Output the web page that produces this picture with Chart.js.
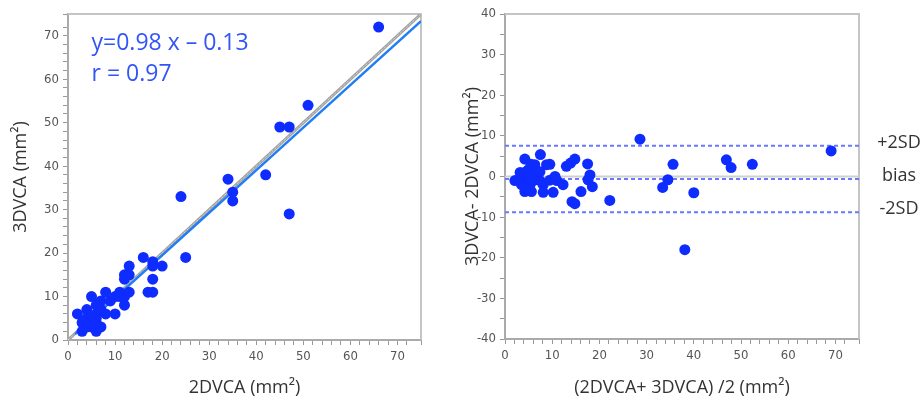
<!DOCTYPE html>
<html>
<head>
<meta charset="utf-8">
<script src="https://cdn.jsdelivr.net/npm/chart.js@4.4.1/dist/chart.umd.min.js"></script>
<style>
  body { margin: 0; background: #fff; }
  #left { position: absolute; left: 0; top: 0; }
  #right { position: absolute; left: 460px; top: 0; }
</style>
</head>
<body>
<canvas id="left" width="460" height="399"></canvas>
<canvas id="right" width="461" height="399"></canvas>
<script>
// ── Correlation plot data (2DVCA vs 3DVCA, mm²) ──
const area2d = [2, 3, 3, 4, 4, 4, 5, 5, 5, 5, 6, 6, 6, 6, 6, 6, 7, 7, 7, 8, 8, 9, 10, 10, 11, 11, 12, 12, 12, 12, 13, 13, 13, 16, 17, 18, 18, 18, 18, 20, 24, 25, 34, 35, 35, 42, 45, 47, 47, 51, 66];
const area3d = [6, 2, 4, 3, 5, 7, 3, 4, 5, 10, 2, 3, 4, 5, 6, 8, 3, 7, 9, 6, 11, 9, 6, 10, 10, 11, 8, 10, 14, 15, 11, 15, 17, 19, 11, 11, 14, 17, 18, 17, 33, 19, 37, 34, 32, 38, 49, 49, 29, 54, 72];
const slope = 0.98, intercept = -0.13, rValue = 0.97;
const regStart = 1.5, axisMax = 75;

// ── Bland-Altman data ──
const baMean = [2.1, 3.2, 3.5, 3.8, 4.2, 4.2, 4.2, 4.6, 4.9, 5.0, 5.3, 5.5, 5.6, 6.0, 6.0, 6.3, 7.4, 7.4, 7.5, 8.1, 8.1, 8.8, 9.5, 9.5, 10.2, 10.6, 11.0, 12.3, 13.0, 13.9, 14.8, 14.2, 14.8, 16.1, 17.5, 18.0, 17.6, 18.5, 22.2, 28.6, 33.4, 34.5, 35.6, 38.1, 40.0, 46.9, 47.9, 52.4, 69.1];
const baDiff = [-1, 1, -2, 0, 4.3, 1, -3.7, -1, 1.6, -0.5, -2, 3, -3.7, 0.4, -1, 2.9, -1, 1.2, 5.4, -2, -3.9, 2.9, -0.9, 3, -3.9, 0, -1, -2, 2.5, 3.3, 4.3, -6.2, -6.7, -3.7, 3.1, 0.4, -0.8, -2.5, -5.9, 9.2, -2.7, -0.8, 3, -18, -4, 4.1, 2.2, 3, 6.3];
const bias = -0.6, upper2sd = 7.6, lower2sd = -8.8;
const limitLabels = ['+2SD', 'bias', '-2SD'];

const pointBlue = '#0f2cff';
const tickFont = { family: "'Liberation Sans Narrow', 'DejaVu Sans Condensed', sans-serif", size: 13 };
const titleFont = { family: "'Open Sans', sans-serif", size: 18 };

function axis(min, max, step, title, titlePad, fitSize, isX) {
    return {
        type: 'linear', min, max,
        border: { color: '#aaa', width: 2 },
        grid: { drawOnChartArea: false, tickLength: 5, color: '#999' },
        ticks: {
            stepSize: step, autoSkip: false, maxRotation: 0, padding: 4,
            color: '#555', font: tickFont,
            callback: v => v % 10 === 0 ? v : ''
        },
        title: { display: true, text: title, color: '#333', font: titleFont, padding: titlePad },
        afterFit: s => { if (isX) s.height = fitSize; else s.width = fitSize; }
    };
}

const framePlugin = {
    id: 'frame',
    beforeDatasetsDraw(chart) {
        const { ctx, chartArea: a } = chart;
        ctx.save();
        ctx.strokeStyle = '#c4c4c4'; ctx.lineWidth = 2;
        ctx.beginPath();
        ctx.moveTo(a.left, a.top); ctx.lineTo(a.right, a.top); ctx.lineTo(a.right, a.bottom);
        ctx.stroke();
        ctx.restore();
    }
};

// ── Left: correlation ──
const eqPlugin = {
    id: 'eq',
    afterDraw(chart) {
        const { ctx, scales: { x, y } } = chart;
        ctx.save();
        ctx.fillStyle = '#3355f5';
        ctx.font = "23px 'Open Sans', sans-serif";
        ctx.textBaseline = 'middle';
        ctx.fillText(`y=${slope} x \u2013 ${Math.abs(intercept)}`, x.getPixelForValue(5), y.getPixelForValue(68.2));
        ctx.fillText(`r = ${rValue}`, x.getPixelForValue(5), y.getPixelForValue(61));
        ctx.restore();
    }
};

new Chart(document.getElementById('left'), {
    type: 'scatter',
    data: {
        datasets: [
            { data: area2d.map((v, i) => ({ x: v, y: area3d[i] })), backgroundColor: pointBlue, borderWidth: 0, pointRadius: 5.5 },
            { type: 'line', data: [{ x: regStart, y: slope * regStart + intercept }, { x: axisMax, y: slope * axisMax + intercept }], borderColor: '#1f7df5', borderWidth: 2.5, pointRadius: 0 },
            { type: 'line', data: [{ x: 0, y: 0 }, { x: axisMax, y: axisMax }], borderColor: '#ececec', borderWidth: 1, borderDash: [1, 1], pointRadius: 0 },
            { type: 'line', data: [{ x: 0, y: 0 }, { x: axisMax, y: axisMax }], borderColor: '#a0a0a0', borderWidth: 3, pointRadius: 0 }
        ]
    },
    options: {
        responsive: false, animation: false,
        layout: { padding: { top: 14, right: 39, left: 0, bottom: 0 } },
        plugins: { legend: { display: false }, tooltip: { enabled: false } },
        scales: {
            x: axis(0, axisMax, 2, '2DVCA (mm\u00b2)', { top: 0, bottom: 0 }, 59, true),
            y: axis(0, axisMax, 2, '3DVCA (mm\u00b2)', { top: 10, bottom: 0 }, 68, false)
        }
    },
    plugins: [framePlugin, eqPlugin]
});

// ── Right: Bland-Altman ──
const limitPlugin = {
    id: 'limits',
    afterDraw(chart) {
        const { ctx, chartArea: a, scales: { y } } = chart;
        ctx.save();
        ctx.fillStyle = '#333';
        ctx.font = "18px 'Open Sans', sans-serif";
        ctx.textAlign = 'center'; ctx.textBaseline = 'middle';
        [upper2sd, bias, lower2sd].forEach((v, i) => {
            ctx.fillText(limitLabels[i], a.right + 40, y.getPixelForValue(v) - 3);
        });
        ctx.restore();
    }
};

const hLine = (v, color, dash) => ({
    type: 'line', data: [{ x: 0, y: v }, { x: axisMax, y: v }],
    borderColor: color, borderWidth: 2, borderDash: dash, pointRadius: 0
});

new Chart(document.getElementById('right'), {
    type: 'scatter',
    data: {
        datasets: [
            { data: baMean.map((v, i) => ({ x: v, y: baDiff[i] })), backgroundColor: pointBlue, borderWidth: 0, pointRadius: 5.5 },
            hLine(upper2sd, '#6a78ff', [4, 3]),
            hLine(bias, '#6a78ff', [4, 3]),
            hLine(lower2sd, '#6a78ff', [4, 3]),
            hLine(0, '#cfcfcf', [])
        ]
    },
    options: {
        responsive: false, animation: false,
        layout: { padding: { top: 14, right: 62, left: 0, bottom: 0 } },
        plugins: { legend: { display: false }, tooltip: { enabled: false } },
        scales: {
            x: axis(0, axisMax, 2, '(2DVCA+ 3DVCA) /2 (mm\u00b2)', { top: 0, bottom: 0 }, 60, true),
            y: axis(-40, 40, 5, '3DVCA- 2DVCA (mm\u00b2)', { top: 2, bottom: 0 }, 45, false)
        }
    },
    plugins: [framePlugin, limitPlugin]
});
</script>
</body>
</html>
